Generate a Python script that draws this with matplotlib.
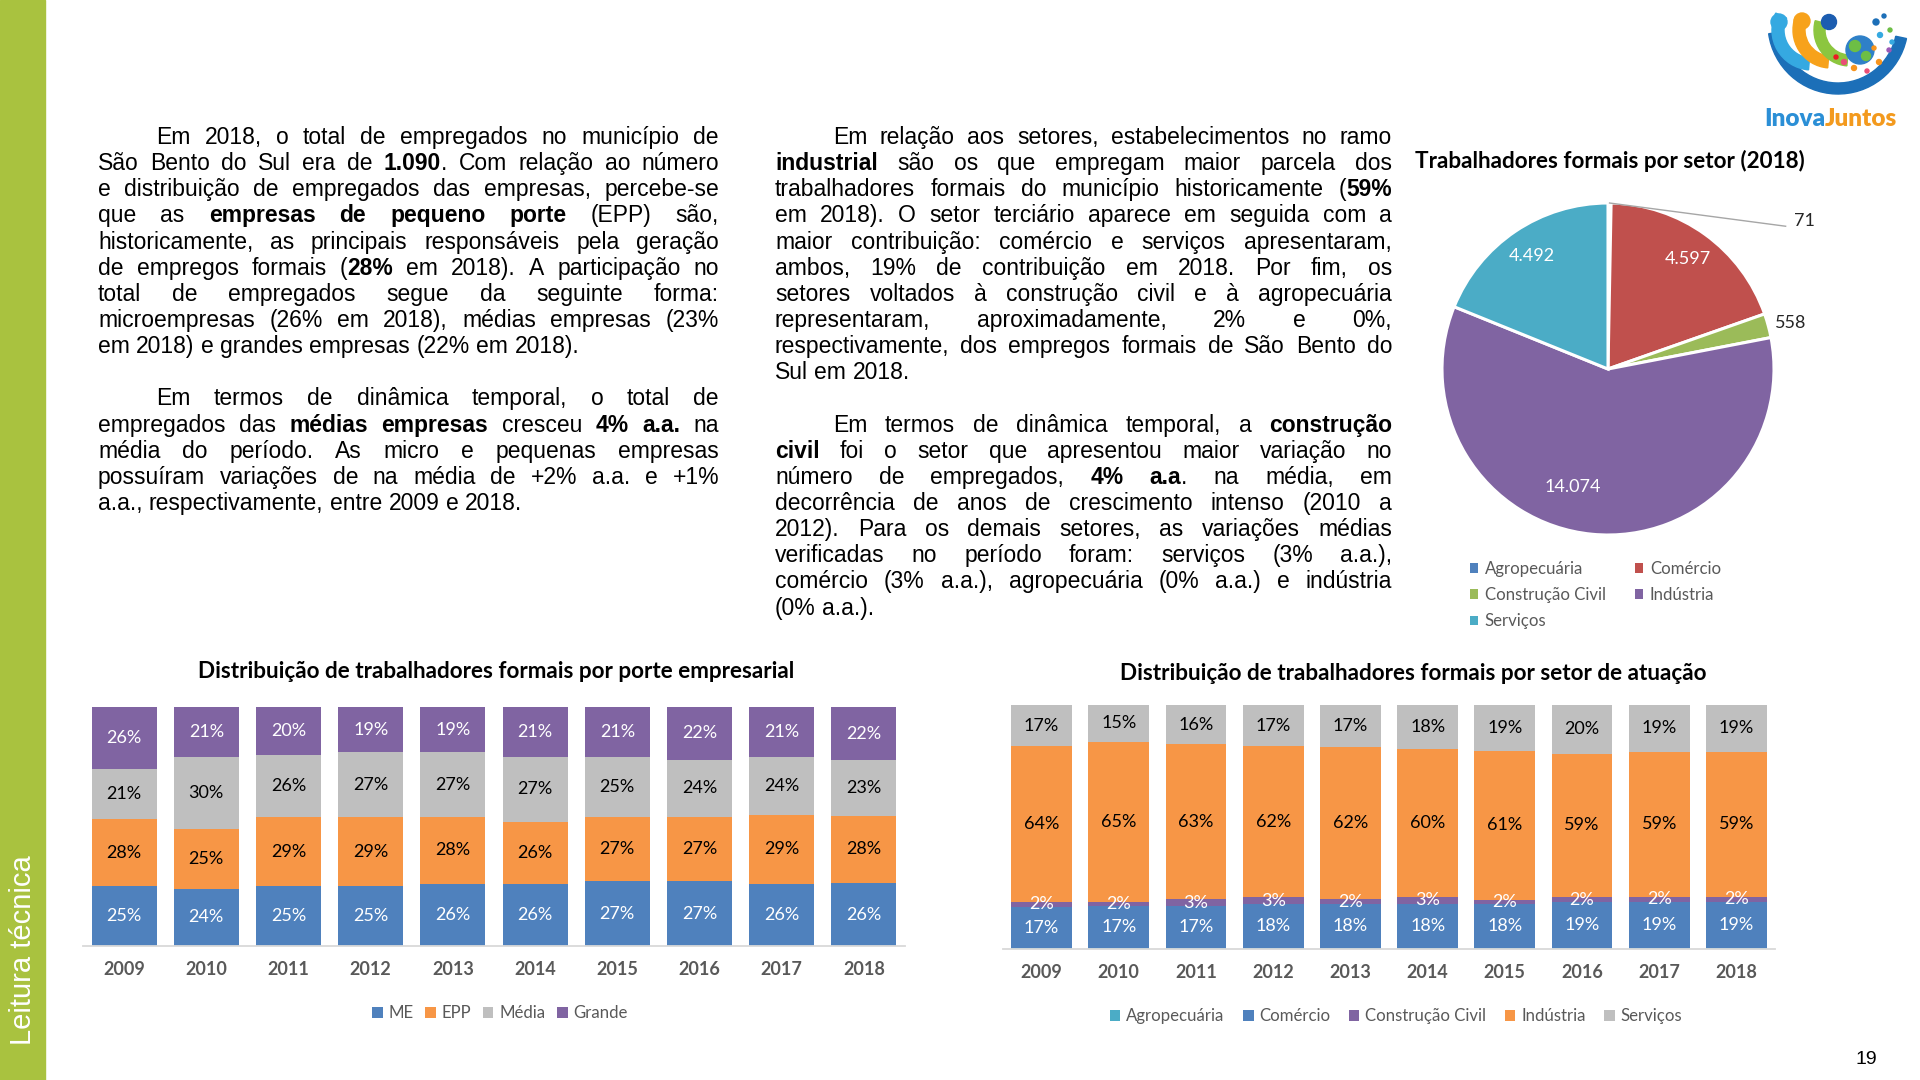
import matplotlib
matplotlib.use('Agg')
import matplotlib.pyplot as plt
from matplotlib.font_manager import FontProperties
from matplotlib.patches import Rectangle, Circle, Wedge, Patch
import numpy as np

# ---------------- data ----------------
years = ['2009', '2010', '2011', '2012', '2013', '2014', '2015', '2016', '2017', '2018']

porte_names = ['ME', 'EPP', 'Média', 'Grande']
porte_me = [25, 24, 25, 25, 26, 26, 27, 27, 26, 26]
porte_epp = [28, 25, 29, 29, 28, 26, 27, 27, 29, 28]
porte_media = [21, 30, 26, 27, 27, 27, 25, 24, 24, 23]
porte_grande = [26, 21, 20, 19, 19, 21, 21, 22, 21, 22]

setor_names = ['Agropecuária', 'Comércio', 'Construção Civil', 'Indústria', 'Serviços']
setor_agro = [0.3, 0.3, 0.3, 0.3, 0.3, 0.3, 0.3, 0.3, 0.3, 0.3]
setor_comercio = [17, 17, 17, 18, 18, 18, 18, 19, 19, 19]
setor_construcao = [2, 2, 3, 3, 2, 3, 2, 2, 2, 2]
setor_industria = [64, 65, 63, 62, 62, 60, 61, 59, 59, 59]
setor_servicos = [17, 15, 16, 17, 17, 18, 19, 20, 19, 19]

pie_labels = ['Agropecuária', 'Comércio', 'Construção Civil', 'Indústria', 'Serviços']
pie_values = [71, 4597, 558, 14074, 4492]

title_porte = 'Distribuição de trabalhadores formais por porte empresarial'
title_setor = 'Distribuição de trabalhadores formais por setor de atuação'
title_pie = 'Trabalhadores formais por setor (2018)'
side_label = 'Leitura técnica'
page_number = '19'

col1_par1 = [
    'Em 2018, o total de empregados no município de',
    'São Bento do Sul era de **1.090**. Com relação ao número',
    'e distribuição de empregados das empresas, percebe-se',
    'que as **empresas de pequeno porte** (EPP) são,',
    'historicamente, as principais responsáveis pela geração',
    'de empregos formais (**28%** em 2018). A participação no',
    'total de empregados segue da seguinte forma:',
    'microempresas (26% em 2018), médias empresas (23%',
    'em 2018) e grandes empresas (22% em 2018).',
]
col1_par2 = [
    'Em termos de dinâmica temporal, o total de',
    'empregados das **médias empresas** cresceu **4% a.a.** na',
    'média do período. As micro e pequenas empresas',
    'possuíram variações de na média de +2% a.a. e +1%',
    'a.a., respectivamente, entre 2009 e 2018.',
]
col2_par1 = [
    'Em relação aos setores, estabelecimentos no ramo',
    '**industrial** são os que empregam maior parcela dos',
    'trabalhadores formais do município historicamente (**59%**',
    'em 2018). O setor terciário aparece em seguida com a',
    'maior contribuição: comércio e serviços apresentaram,',
    'ambos, 19% de contribuição em 2018. Por fim, os',
    'setores voltados à construção civil e à agropecuária',
    'representaram, aproximadamente, 2% e 0%,',
    'respectivamente, dos empregos formais de São Bento do',
    'Sul em 2018.',
]
col2_par2 = [
    'Em termos de dinâmica temporal, a **construção**',
    '**civil** foi o setor que apresentou maior variação no',
    'número de empregados, **4% a.a**. na média, em',
    'decorrência de anos de crescimento intenso (2010 a',
    '2012). Para os demais setores, as variações médias',
    'verificadas no período foram: serviços (3% a.a.),',
    'comércio (3% a.a.), agropecuária (0% a.a.) e indústria',
    '(0% a.a.).',
]

# ---------------- style ----------------
W, H = 1920, 1080
BODY_FONT = 'Liberation Sans'
CHART_FONT = 'Lato'
GREEN = '#A9C23F'
C_BLUE = '#4F81BD'
C_ORANGE = '#F79646'
C_GRAY = '#BFBFBF'
C_PURPLE = '#8064A2'
C_TEAL = '#4BACC6'
C_RED = '#C0504D'
C_GREEN = '#9BBB59'
TXT_GRAY = '#595959'
TITLE_SIZE = 16.2
LABEL_SIZE = 13
YEAR_SIZE = 13
LEG_SIZE = 12.1

fig = plt.figure(figsize=(19.2, 10.8), dpi=100)
fig.patch.set_facecolor('white')
ax0 = fig.add_axes([0, 0, 1, 1])
ax0.set_xlim(0, W)
ax0.set_ylim(H, 0)
ax0.axis('off')
renderer = fig.canvas.get_renderer()

# sidebar
ax0.add_patch(Rectangle((0, 0), 45, H, color=GREEN, zorder=1))
ax0.text(23, 1045, side_label, rotation=90, rotation_mode='anchor', ha='left', va='center',
         color='white', fontsize=21, family=BODY_FONT, zorder=2)
ax0.text(1866, 1059, page_number, ha='center', va='center', fontsize=14, family=BODY_FONT, color='black')

# ---------------- justified body text ----------------
def parse_line(s):
    words, cur, buf, bold, i = [], [], '', False, 0
    while i < len(s):
        if s.startswith('**', i):
            if buf:
                cur.append((buf, bold)); buf = ''
            bold = not bold; i += 2; continue
        ch = s[i]
        if ch == ' ':
            if buf:
                cur.append((buf, bold)); buf = ''
            if cur:
                words.append(cur); cur = []
        else:
            buf += ch
        i += 1
    if buf:
        cur.append((buf, bold))
    if cur:
        words.append(cur)
    return words

_mcache = {}
def meas(t, b, size):
    key = (t, b, size)
    if key not in _mcache:
        fp = FontProperties(family=BODY_FONT, weight='bold' if b else 'normal', size=size)
        _mcache[key] = renderer.get_text_width_height_descent(t, fp, ismath=False)[0]
    return _mcache[key]

def space_w(size):
    return meas('a a', False, size) - meas('aa', False, size)

INDENT = 58
BASE0 = 144.0
LSTEP = 26.14
COLS = [(98, 719), (775, 1392)]

def natural_ratio(lines, x0, x1, size):
    worst = 0
    for k, line in enumerate(lines):
        words = parse_line(line)
        start = x0 + (INDENT if k == 0 else 0)
        wsum = sum(sum(meas(t, b, size) for t, b in w) for w in words)
        nat = wsum + space_w(size) * (len(words) - 1)
        worst = max(worst, nat / (x1 - start))
    return worst

BASE_SIZE = 16.5
r = 0
for (x0, x1), pars in zip(COLS, [(col1_par1, col1_par2), (col2_par1, col2_par2)]):
    for p in pars:
        r = max(r, natural_ratio(p, x0, x1, BASE_SIZE))
BODY_SIZE = min(BASE_SIZE, BASE_SIZE / r * 0.985) if r > 0 else BASE_SIZE

def draw_par(lines, x0, x1, k0, size):
    for k, line in enumerate(lines):
        words = parse_line(line)
        start = x0 + (INDENT if k == 0 else 0)
        widths = [sum(meas(t, b, size) for t, b in w) for w in words]
        last = (k == len(lines) - 1)
        if last or len(words) == 1:
            gap = space_w(size)
        else:
            gap = (x1 - start - sum(widths)) / (len(words) - 1)
        y = BASE0 + LSTEP * (k0 + k)
        x = start
        for w, ww in zip(words, widths):
            xx = x
            for t, b in w:
                ax0.text(xx, y, t, fontsize=size, fontweight='bold' if b else 'normal',
                         family=BODY_FONT, ha='left', va='baseline', color='black')
                xx += meas(t, b, size)
            x += ww + gap

draw_par(col1_par1, COLS[0][0], COLS[0][1], 0, BODY_SIZE)
draw_par(col1_par2, COLS[0][0], COLS[0][1], 10, BODY_SIZE)
draw_par(col2_par1, COLS[1][0], COLS[1][1], 0, BODY_SIZE)
draw_par(col2_par2, COLS[1][0], COLS[1][1], 11, BODY_SIZE)

# ---------------- stacked bar charts ----------------
def px_axes(left, top, right, bottom):
    return fig.add_axes([left / W, 1 - bottom / H, (right - left) / W, (bottom - top) / H])

def stacked(rect, series, names, colors, lcolors, show, bar_w):
    ax = px_axes(*rect)
    x = np.arange(len(years))
    totals = np.sum(np.array(series, dtype=float), axis=0)
    base = np.zeros(len(years))
    handles = []
    for vals, nm, c, lc, s in zip(series, names, colors, lcolors, show):
        h = np.array(vals, dtype=float) / totals
        bars = ax.bar(x, h, bar_w, bottom=base, color=c, edgecolor='none', label=nm)
        if s:
            ax.bar_label(bars, labels=[f'{v:g}%' for v in vals], label_type='center',
                         color=lc, fontsize=LABEL_SIZE, family=CHART_FONT)
        base += h
        handles.append(Patch(facecolor=c, edgecolor='none', label=nm))
    ax.set_xlim(-0.5, len(years) - 0.5)
    ax.set_ylim(0, 1)
    for sp in ['top', 'left', 'right']:
        ax.spines[sp].set_visible(False)
    ax.spines['bottom'].set_color('#D9D9D9')
    ax.spines['bottom'].set_linewidth(1.3)
    ax.set_yticks([])
    ax.set_xticks(x)
    ax.set_xticklabels(years, fontsize=YEAR_SIZE, fontweight='bold', color=TXT_GRAY, family=CHART_FONT)
    ax.tick_params(axis='x', length=0, pad=10.5)
    ax.patch.set_alpha(0)
    return ax, handles

ax1, h1 = stacked((83, 707, 905, 946), [porte_me, porte_epp, porte_media, porte_grande], porte_names,
                  [C_BLUE, C_ORANGE, C_GRAY, C_PURPLE], ['white', 'black', 'black', 'white'],
                  [True, True, True, True], 0.79)
ax2, h2 = stacked((1003, 705, 1775, 949), [setor_agro, setor_comercio, setor_construcao, setor_industria, setor_servicos],
                  setor_names, [C_TEAL, C_BLUE, C_PURPLE, C_ORANGE, C_GRAY],
                  ['white', 'white', 'white', 'black', 'black'], [False, True, True, True, True], 0.79)

ax0.text(496, 672, title_porte, ha='center', va='center', fontsize=TITLE_SIZE, fontweight='bold', family=CHART_FONT)
ax0.text(1413, 673, title_setor, ha='center', va='center', fontsize=TITLE_SIZE, fontweight='bold', family=CHART_FONT)

def leg_kw(cs):
    return dict(frameon=False, handlelength=0.62, handleheight=0.62, handletextpad=0.35,
                borderpad=0, borderaxespad=0, labelcolor=TXT_GRAY, columnspacing=cs,
                prop=FontProperties(family=CHART_FONT, size=LEG_SIZE))
fig.legend(handles=h1, loc='center', bbox_to_anchor=(500, 1013), bbox_transform=ax0.transData,
           ncol=4, **leg_kw(0.7))
fig.legend(handles=h2, loc='center', bbox_to_anchor=(1396, 1016), bbox_transform=ax0.transData,
           ncol=5, **leg_kw(1.1))

# ---------------- pie ----------------
PC = (1608, 369)
PR = 166
axp = px_axes(PC[0] - PR, PC[1] - PR, PC[0] + PR, PC[1] + PR)
pie_colors = [C_BLUE, C_RED, C_GREEN, C_PURPLE, C_TEAL]
wedges, _ = axp.pie(pie_values, colors=pie_colors, startangle=90, counterclock=False, radius=1,
                    wedgeprops=dict(edgecolor='white', linewidth=2.2))
axp.set_xlim(-1, 1)
axp.set_ylim(-1, 1)
axp.set_aspect('equal')

def fmt_br(v):
    return f'{v:,}'.replace(',', '.')

inside_r = {'Comércio': 0.82, 'Serviços': 0.82, 'Indústria': 0.74}
inside_dt = {'Indústria': -11}
for wdg, v, nm in zip(wedges, pie_values, pie_labels):
    mid = (wdg.theta1 + wdg.theta2) / 2
    if nm in inside_r:
        a = np.deg2rad(mid + inside_dt.get(nm, 0))
        rr = inside_r[nm]
        axp.text(rr * np.cos(a), rr * np.sin(a), fmt_br(v), ha='center', va='center',
                 color='white', fontsize=LABEL_SIZE, family=CHART_FONT)
    elif nm == 'Construção Civil':
        a = np.deg2rad(mid)
        axp.text(1.04 * np.cos(a), 1.06 * np.sin(a), fmt_br(v), ha='left', va='center',
                 color='#262626', fontsize=LABEL_SIZE, family=CHART_FONT)
    else:
        a = np.deg2rad(mid)
        axp.plot([np.cos(a), 1.07], [np.sin(a), 0.86], color='#A6A6A6', lw=1.0, clip_on=False)
        axp.text(1.12, 0.89, fmt_br(v), ha='left', va='center', color='#262626',
                 fontsize=LABEL_SIZE, family=CHART_FONT)

ax0.text(1610, 161, title_pie, ha='center', va='center', fontsize=TITLE_SIZE, fontweight='bold', family=CHART_FONT)

ph = [Patch(facecolor=c, edgecolor='none', label=l) for c, l in zip(pie_colors, pie_labels)]
order = [0, 2, 4, 1, 3]
fig.legend(handles=[ph[i] for i in order], loc='upper left', bbox_to_anchor=(1470, 561),
           bbox_transform=ax0.transData, ncol=2, frameon=False, handlelength=0.48, handleheight=0.48,
           handletextpad=0.4, columnspacing=1.75, labelspacing=0.6, borderpad=0, borderaxespad=0,
           labelcolor=TXT_GRAY, prop=FontProperties(family=CHART_FONT, size=LEG_SIZE))

# ---------------- logo ----------------
ax0.add_patch(Wedge((1838, 24), 70, 12, 172, width=11, color='#1C6FB8', zorder=3))
ax0.add_patch(Wedge((1812, 30), 40, 95, 205, width=12, color='#35A9E1', zorder=4))
ax0.add_patch(Wedge((1831, 30), 38, 95, 200, width=12, color='#F7A21B', zorder=5))
ax0.add_patch(Wedge((1850, 30), 36, 95, 195, width=11, color='#8CC63F', zorder=6))
ax0.add_patch(Circle((1779, 22), 8, color='#35A9E1', zorder=7))
ax0.add_patch(Circle((1802, 21), 8, color='#F7A21B', zorder=7))
ax0.add_patch(Circle((1829, 22), 7.5, color='#1C5DB0', zorder=7))
ax0.add_patch(Circle((1860, 50), 14, color='#2F80C8', zorder=7))
ax0.add_patch(Circle((1855, 46), 5.5, color='#6DBE45', zorder=8))
ax0.add_patch(Circle((1866, 56), 4.5, color='#6DBE45', zorder=8))
for (dx, dy, dc, dr) in [(1876, 22, '#1C6FB8', 3), (1884, 16, '#1C6FB8', 2), (1880, 35, '#35A9E1', 2.5),
                         (1890, 30, '#6DBE45', 2), (1844, 62, '#E94E77', 2.5), (1854, 68, '#F7941D', 2.5),
                         (1867, 71, '#E94E77', 2), (1879, 62, '#F7941D', 2.5), (1889, 50, '#9B59B6', 2),
                         (1836, 57, '#ED1C24', 2), (1874, 48, '#F7941D', 2), (1892, 42, '#35A9E1', 2)]:
    ax0.add_patch(Circle((dx, dy), dr, color=dc, zorder=8))
ax0.text(1825, 119, 'Inova', ha='right', va='center', fontsize=17.5, fontweight='heavy',
         family=CHART_FONT, color='#2B8FD6')
ax0.text(1825, 119, 'Juntos', ha='left', va='center', fontsize=17.5, fontweight='heavy',
         family=CHART_FONT, color='#F39A1E')

fig.savefig('out.png', dpi=100, facecolor='white')
